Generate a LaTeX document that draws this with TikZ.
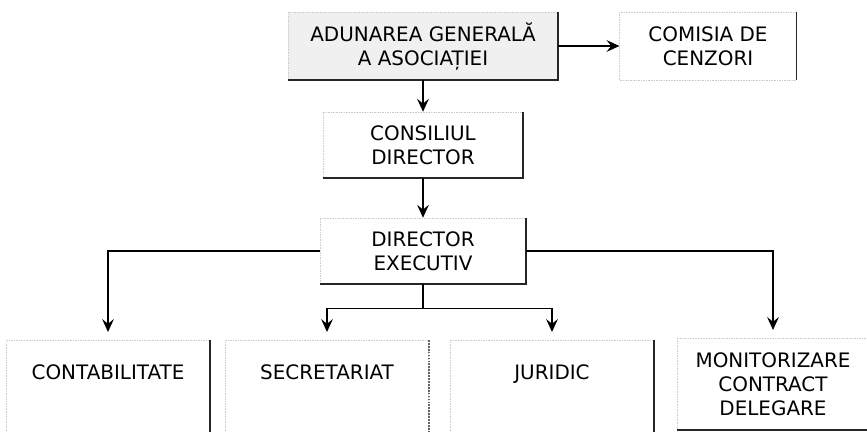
\documentclass[tikz,border=0pt]{standalone}
\usepackage{fontspec}
\setmainfont{DejaVu Sans}
\usetikzlibrary{arrows.meta}

\begin{document}
\begin{tikzpicture}[x=0.03cm, y=-0.03cm,
        orgbox/.style={draw=gray!40, densely dotted, line width=0.4pt, align=center, font=\fontsize{17}{20.5}\selectfont},
        topbox/.style={orgbox, fill=gray!12},
        lowbox/.style={orgbox, anchor=north, minimum width=6.1cm},
        lowsingle/.style={lowbox, minimum height=3.2cm, text depth=1.3cm},
        edge/.style={line width=1.5pt, black!85, solid},
        link/.style={line width=1.2pt},
        arr/.style={link, -{Stealth[length=11pt, width=10pt, inset=4pt]}},
        downarr/.style={arr, shorten >=0.24cm}]
                \useasboundingbox (0,0) rectangle (867,432);
                \clip (0,0) rectangle (867,432);
                \node[topbox, minimum width=8.1cm, minimum height=2.04cm] (aga) at (423,46) {ADUNAREA GENERALĂ\\A ASOCIAȚIEI};
                \node[orgbox, minimum width=5.3cm, minimum height=2.04cm] (cc) at (708,46) {COMISIA DE\\CENZORI};
                \node[orgbox, minimum width=6.0cm, minimum height=1.98cm] (cd) at (423,145) {CONSILIUL\\DIRECTOR};
                \node[orgbox, minimum width=6.18cm, minimum height=1.98cm] (de) at (423,251) {DIRECTOR\\EXECUTIV};
                \node[lowsingle] (cont) at (108,340) {CONTABILITATE};
                \node[lowsingle] (secr) at (327,340) {SECRETARIAT};
                \node[lowsingle] (jur) at (552,340) {JURIDIC};
                \node[lowbox, minimum width=5.76cm, minimum height=2.75cm] (mon) at (773,338) {MONITORIZARE\\CONTRACT\\DELEGARE};
                \foreach \n in {aga,cd,de,cont,jur,mon}
                    \draw[edge] (\n.north east) -- (\n.south east) -- (\n.south west);
                \draw[edge] (cc.north east) -- (cc.south east);
                \draw[edge, densely dotted, black!60] (secr.north east) -- (secr.south east);
                \draw[arr] (aga.east) -- (cc.west);
                \draw[arr] (aga.south) -- (cd.north);
                \draw[arr] (cd.south) -- (de.north);
                \draw[downarr] (de.west) -| (cont.north);
                \draw[downarr] (de.east) -| (mon.north);
                \coordinate (fork) at ([yshift=-0.72cm]de.south);
                \draw[link] (de.south) -- (fork);
                \draw[downarr] (fork) -| (secr.north);
                \draw[downarr] (fork) -| (jur.north);
            \end{tikzpicture}
\end{document}
